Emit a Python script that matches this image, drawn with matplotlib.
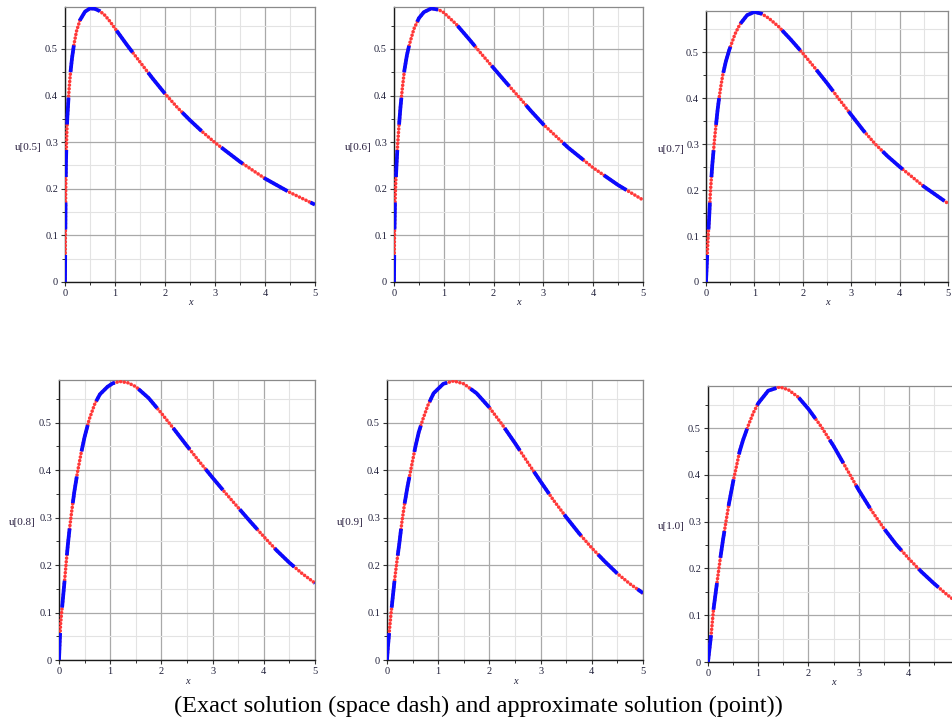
import matplotlib
matplotlib.use("Agg")
import matplotlib.pyplot as plt
from matplotlib.ticker import MultipleLocator

# values, one curve per time level
x_05 = [0, 0.004, 0.008, 0.012, 0.02, 0.033, 0.045, 0.07, 0.09, 0.11, 0.14, 0.18, 0.23, 0.3, 0.4,
        0.5, 0.6, 0.7, 0.8, 0.9, 1.0, 1.25, 1.5, 1.75, 2.0, 2.25, 2.5, 2.75, 3.0, 3.5, 4.0, 4.5, 5.0]
u_05 = [0, 0.06, 0.12, 0.18, 0.26, 0.31, 0.35, 0.395, 0.425, 0.45, 0.48, 0.51, 0.538, 0.562, 0.58,
        0.587, 0.586, 0.581, 0.572, 0.559, 0.544, 0.507, 0.472, 0.437, 0.404, 0.374, 0.347, 0.322,
        0.299, 0.258, 0.222, 0.192, 0.166]

x_06 = [0, 0.005, 0.01, 0.02, 0.033, 0.05, 0.073, 0.1, 0.13, 0.167, 0.21, 0.26, 0.31, 0.4, 0.5,
        0.6, 0.75, 0.9, 1.0, 1.25, 1.5, 1.75, 2.0, 2.25, 2.5, 2.75, 3.0, 3.5, 4.0, 4.5, 5.0]
u_06 = [0, 0.06, 0.11, 0.17, 0.21, 0.25, 0.295, 0.335, 0.375, 0.415, 0.455, 0.487, 0.51, 0.543, 0.566,
        0.579, 0.587, 0.584, 0.578, 0.553, 0.522, 0.49, 0.459, 0.428, 0.398, 0.367, 0.338, 0.288,
        0.245, 0.208, 0.176]

x_07 = [0, 0.015, 0.03, 0.047, 0.065, 0.088, 0.11, 0.13, 0.155, 0.18, 0.21, 0.24, 0.27, 0.31, 0.345,
        0.41, 0.48, 0.6, 0.7, 0.85, 1.0, 1.15, 1.3, 1.5, 1.75, 2.0, 2.25, 2.5, 2.75, 3.0, 3.25, 3.5,
        3.75, 4.0, 4.5, 5.0]
u_07 = [0, 0.035, 0.07, 0.105, 0.14, 0.19, 0.225, 0.255, 0.285, 0.315, 0.345, 0.375, 0.40, 0.428, 0.45,
        0.48, 0.505, 0.54, 0.561, 0.581, 0.588, 0.584, 0.574, 0.556, 0.528, 0.498, 0.466, 0.433,
        0.398, 0.364, 0.33, 0.30, 0.274, 0.251, 0.208, 0.171]

x_08 = [0, 0.015, 0.03, 0.06, 0.09, 0.12, 0.14, 0.175, 0.21, 0.25, 0.3, 0.36, 0.43, 0.5, 0.59,
        0.7, 0.8, 0.95, 1.05, 1.19, 1.35, 1.5, 1.75, 2.0, 2.25, 2.5, 2.75, 3.0, 3.25, 3.5, 3.75,
        4.0, 4.25, 4.5, 4.75, 5.0]
u_08 = [0, 0.04, 0.075, 0.11, 0.145, 0.18, 0.205, 0.245, 0.28, 0.315, 0.355, 0.395, 0.435, 0.47, 0.507,
        0.54, 0.56, 0.576, 0.583, 0.587, 0.584, 0.576, 0.552, 0.52, 0.486, 0.451, 0.417, 0.384,
        0.352, 0.321, 0.29, 0.26, 0.231, 0.205, 0.182, 0.162]

x_09 = [0, 0.02, 0.045, 0.078, 0.12, 0.15, 0.19, 0.24, 0.29, 0.34, 0.4, 0.46, 0.55, 0.62, 0.7,
        0.8, 0.91, 1.1, 1.3, 1.5, 1.75, 2.0, 2.25, 2.5, 2.75, 3.0, 3.25, 3.5, 3.75, 4.0, 4.25,
        4.5, 4.75, 5.0]
u_09 = [0, 0.03, 0.06, 0.097, 0.14, 0.17, 0.205, 0.245, 0.29, 0.327, 0.365, 0.398, 0.447, 0.48, 0.507,
        0.537, 0.562, 0.582, 0.588, 0.582, 0.562, 0.532, 0.496, 0.457, 0.416, 0.376, 0.337, 0.301,
        0.267, 0.236, 0.208, 0.182, 0.16, 0.141]

x_10 = [0, 0.066, 0.11, 0.18, 0.24, 0.3, 0.35, 0.42, 0.5, 0.55, 0.63, 0.7, 0.8, 0.9, 1.0,
        1.2, 1.43, 1.6, 1.8, 2.0, 2.25, 2.5, 2.75, 3.0, 3.25, 3.5, 3.75, 4.0, 4.25, 4.5, 4.75, 5.0]
u_10 = [0, 0.062, 0.113, 0.17, 0.218, 0.262, 0.295, 0.34, 0.385, 0.41, 0.45, 0.475, 0.505, 0.532, 0.553,
        0.58, 0.588, 0.582, 0.566, 0.541, 0.504, 0.462, 0.415, 0.368, 0.325, 0.286, 0.251, 0.221,
        0.193, 0.168, 0.145, 0.124]

t_labels = ["0.5", "0.6", "0.7", "0.8", "0.9", "1.0"]
curves = [(x_05, u_05), (x_06, u_06), (x_07, u_07), (x_08, u_08), (x_09, u_09), (x_10, u_10)]
x_ticks = [0, 1, 2, 3, 4, 5]
y_ticks = [0, 0.1, 0.2, 0.3, 0.4, 0.5]

# axes boxes in pixels: left, top, right, bottom
boxes = [(65, 7, 315, 282), (394, 7, 643, 282), (706, 11, 948, 282),
         (59, 380, 315, 660), (387, 380, 643, 660), (708, 386, 959, 662)]

W, H = 952, 723
serif = ["Liberation Serif", "DejaVu Serif"]

fig = plt.figure(figsize=(W / 100, H / 100), dpi=100)

for i, ((xs, us), lab, (l, t, r, b)) in enumerate(zip(curves, t_labels, boxes)):
    ax = fig.add_axes([l / W, 1 - b / H, (r - l) / W, (b - t) / H])
    ax.set_xlim(0, 5)
    ax.set_ylim(0, 0.59)
    ax.xaxis.set_minor_locator(MultipleLocator(0.5))
    ax.yaxis.set_minor_locator(MultipleLocator(0.05))
    ax.grid(which="major", color="#a9a9a9", lw=0.9)
    ax.grid(which="minor", color="#e3e3e3", lw=0.8)
    ax.set_axisbelow(True)

    # approximate solution (points) underneath, exact solution (space dash) on top
    ax.plot(xs, us, color="#ff3838", lw=2.6, linestyle=(0, (0.01, 1.0)),
            dash_capstyle="round", zorder=3)
    ax.plot(xs, us, color="#0a0aff", lw=2.7, linestyle=(0, (7.2, 6.8)),
            dash_capstyle="butt", zorder=4)

    for side in ["top", "right"]:
        ax.spines[side].set_color("#8a8a8a")
        ax.spines[side].set_linewidth(0.9)
    for side in ["left", "bottom"]:
        ax.spines[side].set_color("#1a1a1a")
        ax.spines[side].set_linewidth(1.0)

    ax.tick_params(which="major", length=3, width=0.8, pad=2, labelsize=7.5,
                   labelcolor="#20203a", color="#333333")
    ax.tick_params(which="minor", length=2, width=0.7, color="#333333")
    ax.set_xticks(x_ticks)
    # the last panel runs past the image edge, its "5" is not visible
    ax.set_xticklabels([str(v) if (i < 5 or v < 5) else "" for v in x_ticks], family=serif)
    ax.set_yticks(y_ticks)
    ax.set_yticklabels(["0" if v == 0 else f"{v:.1f}" for v in y_ticks], family=serif)

    ax.set_ylabel("u[" + lab + "]", rotation=0, fontsize=8, family=serif,
                  color="#2a2040", ha="center", va="center")
    ax.yaxis.set_label_coords(-0.145, 0.49)
    ax.set_xlabel("x", fontsize=7.5, family=serif, style="italic", color="#20203a",
                  va="center")
    ax.xaxis.set_label_coords(0.5, -0.075)

fig.text(478.5 / W, 1 - 706 / H,
         "(Exact solution (space dash) and approximate solution (point))",
         ha="center", va="center", fontsize=17.5, family=serif, color="black")

fig.savefig("out.png", dpi=100)
